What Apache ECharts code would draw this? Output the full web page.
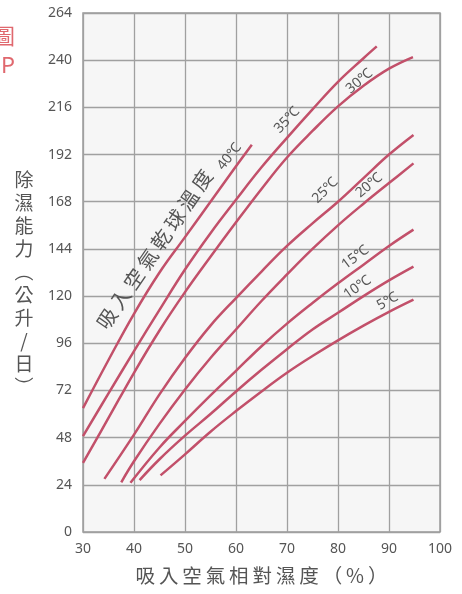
<!DOCTYPE html>
<html>
<head>
<meta charset="utf-8">
<script src="https://cdn.jsdelivr.net/npm/echarts@6/dist/echarts.min.js"></script>
<style>
  html, body { margin: 0; padding: 0; background: #fff; }
  #main { width: 462px; height: 594px; }
</style>
</head>
<body>
<div id="main"></div>
<script>
// 吸入空氣相對濕度 (%) vs 除濕能力 (公升/日), one curve per dry-bulb temperature
var c40 = [[30, 63], [35, 87.5], [40, 111], [45, 132], [50, 150], [55, 168], [60, 186], [63.1, 197]];
var c35 = [[30, 48.8], [35, 70.5], [40, 92], [45, 113], [50, 133.5], [55, 152], [60, 169], [65, 185.5], [70, 200.5], [75, 215], [80, 229], [85, 241], [87.6, 247]];
var c30 = [[30, 35.2], [35, 58], [40, 81], [45, 102.5], [50, 122], [55, 140], [60, 157.5], [65, 174.5], [70, 190.5], [75, 204], [80, 216.5], [85, 227], [90, 235.7], [94.7, 241.6]];
var c25 = [[34.2, 27], [40, 49.5], [45, 70], [50, 88.5], [55, 105], [60, 119], [65, 132.5], [70, 145.5], [75, 157], [80, 168], [85, 180], [90, 192], [94.8, 202]];
var c20 = [[37.5, 25.3], [40, 36], [45, 55], [50, 72.5], [55, 88.5], [60, 103], [65, 117.5], [70, 131], [75, 144], [80, 156], [85, 167], [90, 177.5], [94.8, 187.5]];
var c15 = [[39.3, 25], [45, 43], [50, 56.5], [55, 69.5], [60, 82], [65, 94.5], [70, 106], [75, 116.5], [80, 126.5], [85, 136], [90, 145.5], [94.8, 153.8]];
var c10 = [[41.1, 26.4], [45, 37], [50, 49], [55, 60], [60, 71.5], [65, 82.5], [70, 93], [75, 103], [80, 111.5], [85, 120], [90, 128], [94.8, 135]];
var c5 = [[45.2, 28.8], [50, 39.5], [55, 51], [60, 61.5], [65, 71.5], [70, 81], [75, 89.5], [80, 97.5], [85, 105], [90, 112], [94.8, 118.2]];

var curveNames = ['40℃', '35℃', '30℃', '25℃', '20℃', '15℃', '10℃', '5℃'];
var curveData = [c40, c35, c30, c25, c20, c15, c10, c5];
// where each temperature label sits (data coords) and its tilt in degrees
var labelPos = [[58.7, 191], [70, 209.5], [84.2, 229.3], [77.5, 173.8], [86.1, 176.3], [83.4, 139.7], [83.8, 124.4], [89.7, 117.3]];
var labelTilt = [52, 47, 40, 45, 40, 37, 35, 30];

var SP = '\u2009';
function spaced(s) { return s.split('').join(SP); }

var myChart = echarts.init(document.getElementById('main'));

var series = [];
for (var i = 0; i < curveData.length; i++) {
    series.push({
        name: curveNames[i],
        type: 'line',
        data: curveData[i],
        smooth: 0.4,
        symbol: 'none',
        silent: true,
        lineStyle: { color: '#c2506a', width: 2.5 }
    });
}

var option = {
    animation: false,
    grid: {
        left: 83, right: 22, top: 13, bottom: 62,
        outerBoundsMode: 'none',
        containLabel: false,
        show: true,
        backgroundColor: '#f6f6f6',
        borderColor: '#9a9a9a',
        borderWidth: 1.5
    },
    xAxis: {
        type: 'value',
        min: 30, max: 100, interval: 10,
        name: spaced('吸入空氣相對濕度（%）'),
        nameLocation: 'middle',
        nameGap: 34,
        nameTextStyle: { fontFamily: 'Noto Sans CJK TC', fontSize: 19.5, color: '#555' },
        axisLine: { show: false },
        axisTick: { show: false },
        axisLabel: { margin: 10, fontFamily: 'Noto Sans', fontSize: 14, color: '#555' },
        splitLine: { lineStyle: { color: '#a0a0a0', width: 1.3 } }
    },
    yAxis: {
        type: 'value',
        min: 0, max: 264, interval: 24,
        axisLine: { show: false },
        axisTick: { show: false },
        axisLabel: { margin: 11, fontFamily: 'Noto Sans', fontSize: 14, color: '#555' },
        splitLine: { lineStyle: { color: '#a0a0a0', width: 1.3 } }
    },
    series: series
};

myChart.setOption(option);

var graphics = [
    {
        type: 'text', x: 15, y: 21,
        style: { text: '圖\nP', fontFamily: 'Noto Sans CJK TC', fontSize: 22, lineHeight: 29, fill: '#e0686e', align: 'right', verticalAlign: 'top' }
    },
    {
        type: 'text', x: 24, y: 168,
        style: {
            text: '除\n濕\n能\n力\n︵\n公\n升\n/\n日\n︶',
            fontFamily: 'Noto Sans CJK TC', fontSize: 19, lineHeight: 23, fill: '#555', align: 'center', verticalAlign: 'top'
        }
    }
];

for (var j = 0; j < labelPos.length; j++) {
    var p = myChart.convertToPixel({ gridIndex: 0 }, labelPos[j]);
    graphics.push({
        type: 'text', x: p[0], y: p[1],
        rotation: labelTilt[j] * Math.PI / 180,
        style: {
            text: curveNames[j], fontFamily: 'Noto Sans', fontSize: 14, fill: '#555',
            align: 'center', verticalAlign: 'middle'
        }
    });
}

var titlePos = myChart.convertToPixel({ gridIndex: 0 }, [44, 143.8]);
graphics.push({
    type: 'text', x: titlePos[0], y: titlePos[1],
    rotation: 55.5 * Math.PI / 180,
    style: {
        text: spaced('吸入空氣乾球溫度'), fontFamily: 'Noto Sans CJK TC', fontSize: 20, fill: '#555',
        align: 'center', verticalAlign: 'middle'
    }
});

myChart.setOption({ graphic: graphics });
</script>
</body>
</html>
